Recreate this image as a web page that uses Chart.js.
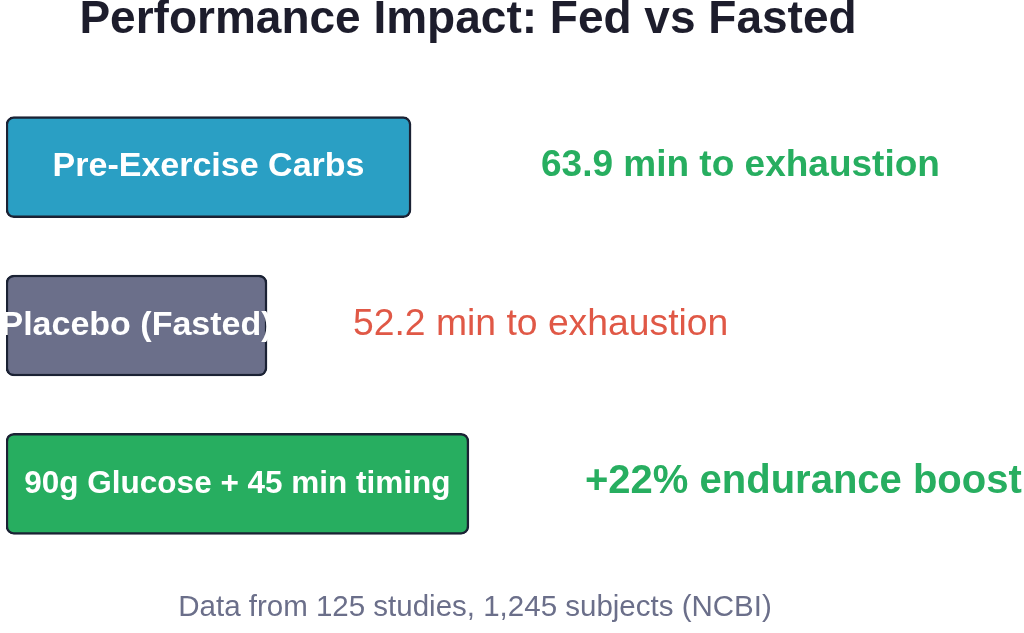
<!DOCTYPE html>
<html>
<head>
<meta charset="utf-8">
<script src="https://cdn.jsdelivr.net/npm/chart.js@4.4.1/dist/chart.umd.min.js"></script>
<style>
  html, body { margin: 0; padding: 0; background: #ffffff; }
  #wrap { width: 1024px; height: 633px; position: relative; }
</style>
</head>
<body>
<div id="wrap"><canvas id="c" width="1024" height="633"></canvas></div>
<script>
const titleText = 'Performance Impact: Fed vs Fasted';
const footerText = 'Data from 125 studies, 1,245 subjects (NCBI)';
const categories = ['Pre-Exercise Carbs', 'Placebo (Fasted)', '90g Glucose + 45 min timing'];
const minutesToExhaustion = [63.9, 52.2, 68.6];
const annotations = ['63.9 min to exhaustion', '52.2 min to exhaustion', '+22% endurance boost'];
const axisStart = 31;
const axisEnd = 113.2;

const FONT = "'Liberation Sans', Arial, Helvetica, sans-serif";
const barColors = ['#2a9fc4', '#6b6f8a', '#27ae60'];
const annoColors = ['#27ae60', '#e05846', '#27ae60'];
const annoWeights = ['bold', 'normal', 'bold'];
const annoSizes = [37, 37.3, 40];
const annoX = [541, 353, 585];
const labelSizes = [34, 34, 31.5];

const textPlugin = {
  id: 'textOverlay',
  afterDatasetsDraw(chart) {
    const ctx = chart.ctx;
    const meta = chart.getDatasetMeta(0);
    ctx.save();
    ctx.textBaseline = 'alphabetic';
    meta.data.forEach((bar, i) => {
      const p = bar.getProps(['x', 'y', 'base'], true);
      ctx.font = 'bold ' + labelSizes[i] + 'px ' + FONT;
      ctx.fillStyle = '#ffffff';
      ctx.textAlign = 'center';
      ctx.fillText(categories[i], (p.x + p.base) / 2, p.y + 9);
      ctx.font = annoWeights[i] + ' ' + annoSizes[i] + 'px ' + FONT;
      ctx.fillStyle = annoColors[i];
      ctx.textAlign = 'left';
      ctx.fillText(annotations[i], annoX[i], p.y + 9);
    });
    ctx.font = 'bold 46px ' + FONT;
    ctx.fillStyle = '#1d1d2c';
    ctx.textAlign = 'center';
    ctx.fillText(titleText, 468, 33);
    ctx.font = 'normal 29.5px ' + FONT;
    ctx.fillStyle = '#6b6f8a';
    ctx.textAlign = 'center';
    ctx.fillText(footerText, 475, 616);
    ctx.restore();
  }
};

new Chart(document.getElementById('c'), {
  type: 'bar',
  data: {
    labels: categories,
    datasets: [{
      data: minutesToExhaustion,
      base: axisStart,
      backgroundColor: barColors,
      borderColor: '#1b2234',
      borderWidth: 2.5,
      borderRadius: 8,
      borderSkipped: false,
      barThickness: 101
    }]
  },
  options: {
    indexAxis: 'y',
    responsive: false,
    animation: false,
    layout: { padding: { left: 6, right: 6, top: 88, bottom: 70 } },
    scales: {
      x: { display: false, min: axisStart, max: axisEnd },
      y: { display: false }
    },
    plugins: {
      legend: { display: false },
      tooltip: { enabled: false },
      title: { display: false }
    }
  },
  plugins: [textPlugin]
});
</script>
</body>
</html>
